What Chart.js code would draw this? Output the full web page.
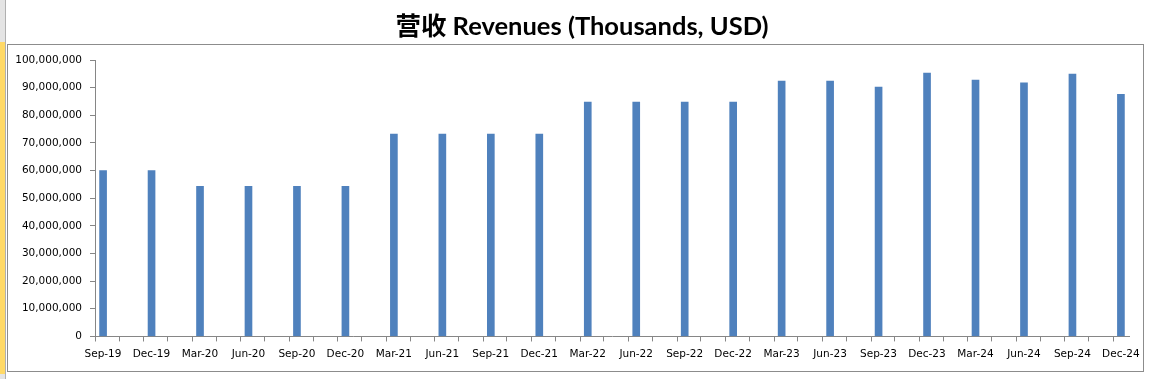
<!DOCTYPE html>
<html>
<head>
<meta charset="utf-8">
<script src="https://cdn.jsdelivr.net/npm/chart.js@4/dist/chart.umd.min.js"></script>
<style>
html,body{margin:0;padding:0;background:#fff;overflow:hidden;}
#wrap{position:relative;width:1153px;height:379px;}
</style>
</head>
<body>
<div id="wrap"><canvas id="c" width="1153" height="379"></canvas></div>
<script>
// ---- data ----
const categories = ["Sep-19","Dec-19","Mar-20","Jun-20","Sep-20","Dec-20","Mar-21","Jun-21","Sep-21","Dec-21","Mar-22","Jun-22","Sep-22","Dec-22","Mar-23","Jun-23","Sep-23","Dec-23","Mar-24","Jun-24","Sep-24","Dec-24"];
const revenues = [60000000,60000000,54300000,54300000,54300000,54300000,73200000,73200000,73200000,73200000,84800000,84800000,84800000,84800000,92400000,92400000,90200000,95300000,92700000,91700000,94900000,87600000];
const yTicks = [0,10000000,20000000,30000000,40000000,50000000,60000000,70000000,80000000,90000000,100000000];
const titleText = "营收 Revenues (Thousands, USD)";

// months from Sep-19; each quarter label sits on its first month slot
const MONTHS_PER_CAT = 3;
const totalMonths = (categories.length - 1) * MONTHS_PER_CAT + 1;
const points = revenues.map((v, i) => ({x: i * MONTHS_PER_CAT + 0.5, y: v}));

const axisColor = '#868686';

const frame = {
  id: 'frame',
  beforeDraw(chart) {
    const ctx = chart.ctx;
    ctx.save();
    ctx.fillStyle = '#ffffff';
    ctx.fillRect(0, 0, chart.width, chart.height);
    ctx.fillStyle = '#e4e4e4';
    ctx.fillRect(0, 0, 6, 42);
    ctx.fillRect(0, 374, 6, 5);
    ctx.fillStyle = '#ffd966';
    ctx.fillRect(0, 42, 5, 332);
    ctx.fillStyle = '#b0b0b0';
    ctx.fillRect(5, 0, 1, 379);
    ctx.strokeStyle = '#8c8c8c';
    ctx.lineWidth = 1;
    ctx.strokeRect(7.5, 44.5, 1136, 327);
    ctx.restore();
  },
  afterDraw(chart) {
    const ctx = chart.ctx;
    ctx.save();
    // x-axis tick marks at each quarter boundary, via the x scale
    const xs = chart.scales.x;
    const yBase = Math.round(chart.scales.y.getPixelForValue(0)) + 0.5;
    ctx.strokeStyle = axisColor;
    ctx.lineWidth = 1;
    ctx.beginPath();
    xs.ticks.forEach(t => {
      const px = Math.round(xs.getPixelForValue(t.value)) + 0.5;
      ctx.moveTo(px, yBase);
      ctx.lineTo(px, yBase + 5);
    });
    ctx.stroke();
    // title
    ctx.fillStyle = '#000';
    ctx.font = "bold 25.5px Lato, 'Noto Sans CJK SC', sans-serif";
    ctx.textAlign = 'center';
    ctx.textBaseline = 'middle';
    ctx.fillText(titleText, 582, 27);
    ctx.restore();
  }
};

new Chart(document.getElementById('c'), {
  type: 'bar',
  data: {
    datasets: [{
      data: points,
      backgroundColor: '#4f81bd',
      borderWidth: 0,
      barThickness: 7
    }]
  },
  options: {
    responsive: false,
    animation: false,
    layout: {padding: {left: 0, right: 24, top: 60, bottom: 11}},
    plugins: {
      legend: {display: false},
      tooltip: {enabled: true},
      title: {display: false}
    },
    scales: {
      x: {
        type: 'linear',
        offset: false,
        min: 0,
        max: totalMonths,
        afterBuildTicks(scale) {
          scale.ticks = categories.map((c, i) => ({value: i * MONTHS_PER_CAT}));
        },
        ticks: {
          autoSkip: false,
          maxRotation: 0,
          minRotation: 0,
          labelOffset: 8,
          padding: 7,
          color: '#000',
          font: {family: "'DejaVu Sans'", size: 10.5},
          callback: (v, i) => categories[i]
        },
        grid: {display: true, drawOnChartArea: false, drawTicks: true, tickLength: 5, color: axisColor, lineWidth: 1},
        border: {display: true, color: axisColor}
      },
      y: {
        min: 0,
        max: 100000000,
        afterBuildTicks(scale) {
          scale.ticks = yTicks.map(v => ({value: v}));
        },
        afterFit(scale) { scale.width = 95; },
        ticks: {
          padding: 8,
          color: '#000',
          font: {family: "'DejaVu Sans'", size: 10.5},
          callback: v => Number(v).toLocaleString('en-US')
        },
        grid: {display: true, drawOnChartArea: false, drawTicks: true, tickLength: 5, color: axisColor},
        border: {display: true, color: axisColor}
      }
    }
  },
  plugins: [frame]
});
</script>
</body>
</html>
